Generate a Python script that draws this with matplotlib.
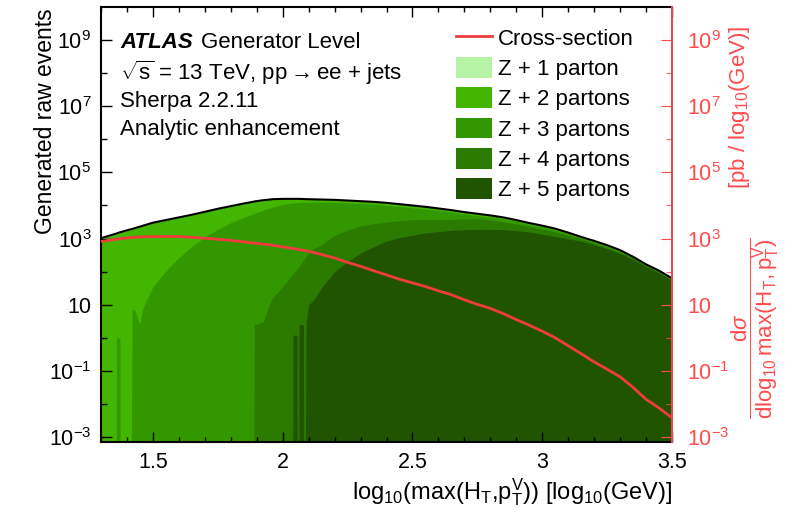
import numpy as np
import matplotlib.pyplot as plt
from matplotlib.patches import Patch
from matplotlib.lines import Line2D
from matplotlib.ticker import FixedLocator, FixedFormatter, MultipleLocator, NullFormatter

plt.rcParams['font.family'] = ['Liberation Sans', 'DejaVu Sans']
plt.rcParams['mathtext.fontset'] = 'custom'
plt.rcParams['mathtext.rm'] = 'Liberation Sans'
plt.rcParams['mathtext.it'] = 'Liberation Sans:italic'
plt.rcParams['mathtext.bf'] = 'Liberation Sans:bold'

# log10(max(HT, pT^V)) sample points for the generated-event histograms
x_pts = [1.30, 1.35, 1.359, 1.36, 1.373, 1.374, 1.40, 1.415, 1.42, 1.43,
         1.44, 1.45, 1.46, 1.475, 1.50, 1.55, 1.60, 1.65, 1.70, 1.75,
         1.80, 1.85, 1.888, 1.89, 1.925, 1.94, 1.96, 2.00, 2.038, 2.04,
         2.055, 2.056, 2.062, 2.063, 2.08, 2.081, 2.086, 2.09, 2.10, 2.12,
         2.15, 2.20, 2.25, 2.30, 2.35, 2.40, 2.45, 2.50, 2.55, 2.60,
         2.65, 2.70, 2.75, 2.80, 2.85, 2.90, 2.95, 3.00, 3.05, 3.10,
         3.15, 3.20, 3.25, 3.30, 3.35, 3.40, 3.45, 3.50]

# raw generated events per parton multiplicity
z1 = [40, 30, 29, 28, 26, 26, 20, 18, 17, 15,
      14, 12, 11, 9, 6, 3, 1, 0, 0, 0,
      0, 0, 0, 0, 0, 0, 0, 0, 0, 0,
      0, 0, 0, 0, 0, 0, 0, 0, 0, 0,
      0, 0, 0, 0, 0, 0, 0, 0, 0, 0,
      0, 0, 0, 0, 0, 0, 0, 0, 0, 0,
      0, 0, 0, 0, 0, 0, 0, 0]
z2 = [983, 1319, 1384, 1400, 1522, 1523, 1758, 1887, 1926, 2043,
      2170, 2277, 2409, 2607, 2979, 3523, 4101, 4673, 5335, 6038,
      6530, 7117, 7409, 7429, 7210, 6848, 6575, 5134, 3964, 3964,
      3687, 3687, 3546, 3546, 3223, 3223, 3093, 3029, 2899, 2722,
      2547, 2202, 2102, 2008, 1917, 1790, 1632, 1489, 1358, 1049,
      934, 815, 725, 545, 475, 320, 259, 216, 175, 134,
      75, 57, 42, 30, 13, 8, 5, 3]
z3 = [0, 0, 0, 1, 1, 0, 0, 0, 7, 7,
      4, 2.5, 7, 14, 35, 105, 263, 575, 1122, 1905,
      3020, 4365, 5623, 5752, 7241, 7936, 8897, 10680, 11802, 11800,
      12042, 12042, 12162, 12162, 12221, 12221, 12240, 12236, 12234, 12088,
      11928, 11330, 10203, 9083, 8147, 7071, 5866, 4796, 3960, 3277,
      2508, 1605, 917, 836, 728, 557, 348, 289, 235, 121,
      70, 53, 39, 28, 12, 7, 4, 1]
z4 = [0, 0, 0, 0, 0, 0, 0, 0, 0, 0,
      0, 0, 0, 0, 0, 0, 0, 0, 0, 0,
      0, 0, 0, 2.5, 3, 7, 16, 35, 83, 84,
      119, 120, 141, 139, 221, 224, 263, 292, 345, 487,
      628, 1159, 1620, 2036, 2256, 2330, 2395, 2456, 2323, 2180,
      2024, 2028, 2076, 1726, 1300, 1016, 759, 601, 437, 282,
      145, 95, 60, 34, 23, 10, 7, 5]
z5 = [0, 0, 0, 0, 0, 0, 0, 0, 0, 0,
      0, 0, 0, 0, 0, 0, 0, 0, 0, 0,
      0, 0, 0, 0, 0, 0, 0, 0, 0, 1.2,
      1.2, 0, 0, 2.5, 2.5, 0, 0, 3, 10, 14,
      33, 100, 200, 363, 562, 832, 1072, 1259, 1479, 1622,
      1778, 1862, 1905, 1905, 1862, 1738, 1585, 1349, 1148, 977,
      832, 646, 490, 355, 234, 141, 91, 54]

# cross-section [pb / log10(GeV)]
xsec_x = [1.30, 1.35, 1.40, 1.45, 1.50, 1.55, 1.60, 1.65, 1.70, 1.75,
          1.80, 1.85, 1.90, 1.95, 2.00, 2.05, 2.10, 2.15, 2.20, 2.25,
          2.30, 2.35, 2.40, 2.45, 2.50, 2.55, 2.60, 2.65, 2.70, 2.75,
          2.80, 2.85, 2.90, 2.95, 3.00, 3.05, 3.10, 3.15, 3.20, 3.25,
          3.30, 3.35, 3.40, 3.45, 3.50]
xsec = [813, 933, 1047, 1122, 1148, 1161, 1148, 1096, 1023, 955,
        881, 794, 716, 646, 562, 484, 412, 331, 257, 191,
        145, 107, 79.4, 58.9, 45.7, 35.5, 26.3, 20.0, 14.1, 10.2,
        7.76, 5.37, 3.55, 2.40, 1.58, 1.00, 0.575, 0.331, 0.186, 0.112,
        0.0661, 0.0316, 0.0138, 0.00759, 0.00380]

labels = ['Z + 1 parton', 'Z + 2 partons', 'Z + 3 partons', 'Z + 4 partons', 'Z + 5 partons']
colours = ['#b6f3a4', '#42b600', '#339800', '#2a7b00', '#215400']
red = '#f03c3c'
red_text = '#ff4a4a'

y_major = [1e-3, 1e-1, 10, 1e3, 1e5, 1e7, 1e9]
y_major_text = ['$10^{-3}$', '$10^{-1}$', '10', '$10^{3}$', '$10^{5}$', '$10^{7}$', '$10^{9}$']
y_minor = [1e-2, 1, 1e2, 1e4, 1e6, 1e8]
ylo, yhi = 10**-3.15, 1e10


def log_ticks(a):
    a.set_yscale('log')
    a.set_ylim(ylo, yhi)
    a.yaxis.set_major_locator(FixedLocator(y_major))
    a.yaxis.set_major_formatter(FixedFormatter(y_major_text))
    a.yaxis.set_minor_locator(FixedLocator(y_minor))
    a.yaxis.set_minor_formatter(NullFormatter())


fig = plt.figure(figsize=(7.96, 5.12), dpi=100)
ax = fig.add_axes([101/796, 1 - 442/512, 571/796, 435/512])

x = np.array(x_pts)
counts = np.array([z1, z2, z3, z4, z5], dtype=float)
# stack Z+5 at the bottom; cum[k] is the top of layer k
cum = np.cumsum(counts[::-1], axis=0)[::-1]
floor = 1e-6
for k in range(5):
    ax.fill_between(x, floor, np.maximum(cum[k], floor), color=colours[k], lw=0)
ax.plot(x, cum[0], color='black', lw=1.5)

ax.set_xlim(1.3, 3.5)
log_ticks(ax)
ax.set_xticks([1.5, 2.0, 2.5, 3.0, 3.5])
ax.set_xticklabels(['1.5', '2', '2.5', '3', '3.5'])
ax.xaxis.set_minor_locator(MultipleLocator(0.1))
ax.tick_params(axis='both', which='both', direction='in', top=True, right=False,
               labelsize=15.5, width=1.0)
ax.tick_params(axis='x', which='major', length=7.5, pad=7)
ax.tick_params(axis='x', which='minor', length=3.8)
ax.tick_params(axis='y', which='major', length=8, pad=7)
ax.tick_params(axis='y', which='minor', length=4.5)
for s in ['left', 'bottom', 'top']:
    ax.spines[s].set_linewidth(1.5)
ax.spines['right'].set_visible(False)

ax2 = ax.twinx()
ax2.plot(xsec_x, xsec, color=red, lw=2)
log_ticks(ax2)
ax2.tick_params(axis='y', which='both', direction='in', colors=red_text, labelsize=15.5)
ax2.tick_params(axis='y', which='major', length=8, pad=11)
ax2.tick_params(axis='y', which='minor', length=4.5)
ax2.spines['right'].set_color('#e05050')
ax2.spines['right'].set_linewidth(1.5)
for s in ['left', 'bottom', 'top']:
    ax2.spines[s].set_visible(False)

# axis titles
fig.text(46/796, 1 - 8/512, 'Generated raw events', rotation=90, ha='center', va='top', fontsize=16.5)
fig.text(672/796, 1 - 492/512,
         r'log$_{10}$(max(H$_{\mathrm{T}}$,p$_{\mathrm{T}}^{\mathrm{V}}$)) [log$_{10}$(GeV)]',
         ha='right', va='center', fontsize=17)
fig.text(755/796, 1 - 328/512,
         r'$\dfrac{\mathrm{d}\sigma}{\mathrm{dlog_{10}\,max(H_{T},p_{T}^{V})}}$',
         rotation=90, ha='center', va='center', fontsize=16, color=red_text)
fig.text(740/796, 1 - 107/512, r'[pb / log$_{10}$(GeV)]', rotation=90,
         ha='center', va='center', fontsize=16, color=red_text)

# labels inside the frame
fig.text(120/796, 1 - 43/512, 'ATLAS', fontsize=16, fontweight='bold', style='italic', va='center')
fig.text(201/796, 1 - 43/512, 'Generator Level', fontsize=16, va='center')
fig.text(120/796, 1 - 73/512, r'$\sqrt{\mathrm{s}}$ = 13 TeV, pp$\rightarrow$ee + jets',
         fontsize=16, va='center')
fig.text(120/796, 1 - 102/512, 'Sherpa 2.2.11', fontsize=16, va='center')
fig.text(120/796, 1 - 130/512, 'Analytic enhancement', fontsize=16, va='center')

handles = [Line2D([], [], color=red, lw=2)]
handles += [Patch(facecolor=c, edgecolor='none') for c in colours]
fig.legend(handles, ['Cross-section'] + labels, loc='upper left',
           bbox_to_anchor=(456/796, 1 - 27/512), frameon=False, fontsize=16,
           handlelength=1.6, handleheight=1.05, labelspacing=0.33,
           handletextpad=0.3, borderpad=0, borderaxespad=0)

fig.savefig('out.png', dpi=100)
